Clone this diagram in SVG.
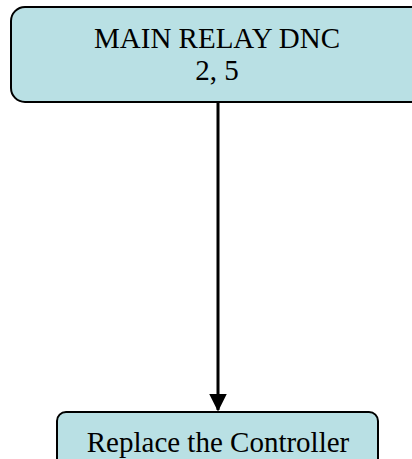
<svg xmlns="http://www.w3.org/2000/svg" width="412" height="459" viewBox="0 0 412 459">
<style>
.box{fill:#b9e0e4;stroke:#000;stroke-width:2}
.t{font-family:"Liberation Serif","Times New Roman",serif;font-size:29px;fill:#000;text-anchor:middle}
.c{stroke:#000;stroke-width:3;fill:none}
</style>
<defs>
<marker id="ah" markerWidth="6" markerHeight="6" refX="5.5" refY="3" orient="auto" markerUnits="strokeWidth">
<path d="M0,0 L6,3 L0,6 Z" fill="#000"/>
</marker>
</defs>
<g id="connectors">
<path class="c" d="M218,102 L218,410" marker-end="url(#ah)"/>
</g>
<g id="node-main-relay">
<rect class="box" x="11" y="7" width="420" height="95" rx="14" ry="14"/>
<text class="t" x="217" y="48">MAIN RELAY DNC</text>
<text class="t" x="217" y="80">2, 5</text>
</g>
<g id="node-replace">
<rect class="box" x="57" y="412" width="321" height="60" rx="9" ry="9"/>
<text class="t" x="218" y="452">Replace the Controller</text>
</g>
</svg>
